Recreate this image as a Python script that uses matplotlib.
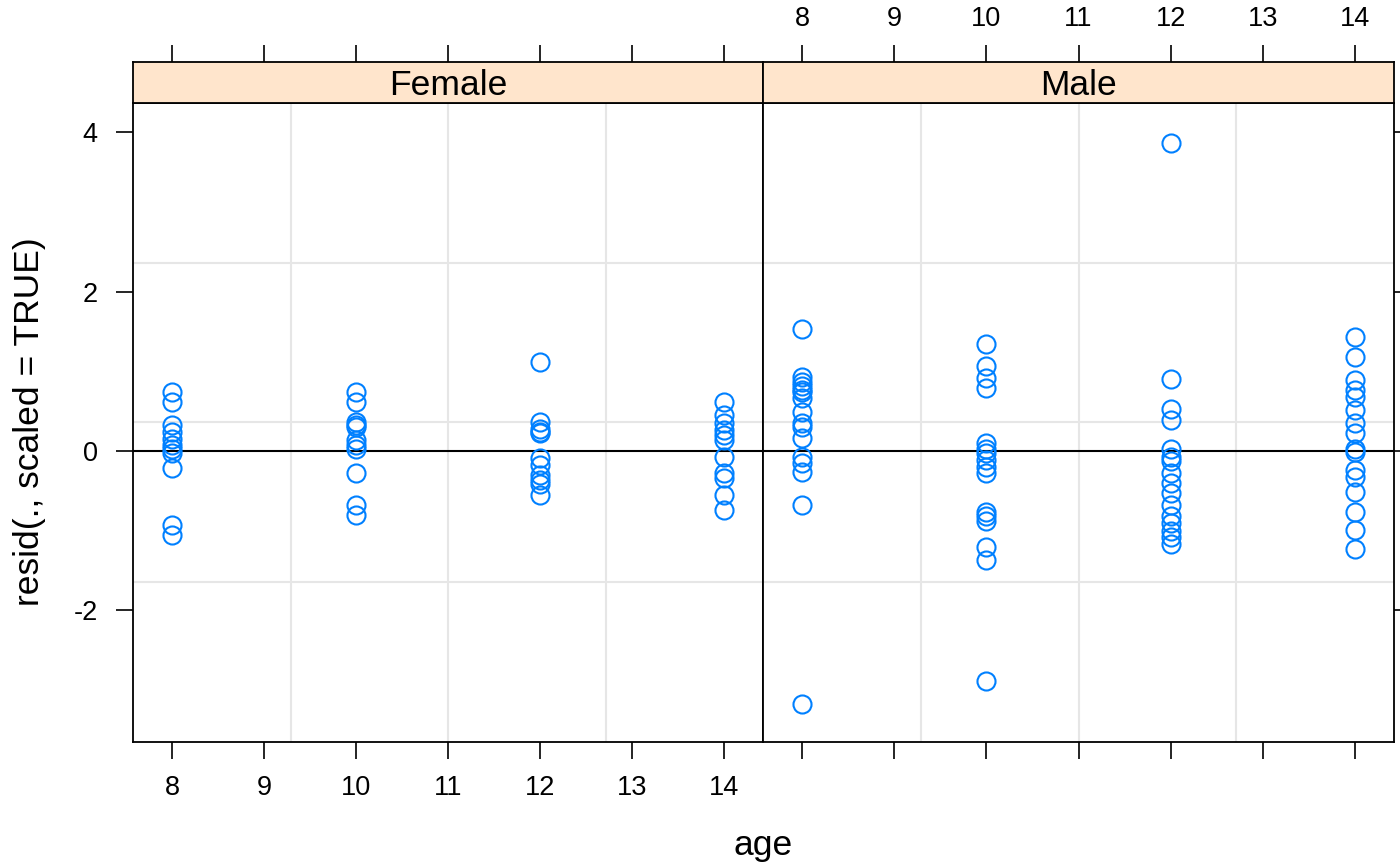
import matplotlib
matplotlib.use("Agg")
import matplotlib.pyplot as plt
import numpy as np

plt.rcParams['font.family'] = ['Liberation Sans', 'DejaVu Sans']

panels = ["Female", "Male"]
ages = [8, 10, 12, 14]
x_ticks = [8, 9, 10, 11, 12, 13, 14]
y_ticks = [-2, 0, 2, 4]
y_tick_labels = ["-2", "0", "2", "4"]

female_8 = [0.74, 0.61, 0.33, 0.24, 0.15, 0.08, 0.02, -0.03, -0.21, -0.93, -1.05]
female_10 = [0.74, 0.62, 0.37, 0.33, 0.30, 0.14, 0.08, 0.03, -0.28, -0.68, -0.80]
female_12 = [1.11, 0.37, 0.28, 0.24, 0.22, -0.09, -0.18, -0.30, -0.36, -0.41, -0.55]
female_14 = [0.62, 0.45, 0.35, 0.26, 0.20, 0.14, -0.07, -0.28, -0.34, -0.55, -0.74]

male_8 = [1.53, 0.93, 0.87, 0.81, 0.77, 0.74, 0.67, 0.49, 0.35, 0.30, 0.16,
          -0.07, -0.15, -0.26, -0.68, -3.17]
male_10 = [1.34, 1.06, 0.91, 0.79, 0.10, 0.03, -0.03, -0.11, -0.20, -0.28,
           -0.76, -0.82, -0.88, -1.20, -1.37, -2.88]
male_12 = [3.86, 0.90, 0.53, 0.39, 0.03, -0.07, -0.12, -0.28, -0.40, -0.53,
           -0.68, -0.82, -0.90, -1.00, -1.08, -1.16]
male_14 = [1.43, 1.18, 0.89, 0.77, 0.68, 0.51, 0.35, 0.22, 0.03, -0.01,
           -0.24, -0.32, -0.51, -0.76, -0.99, -1.23]

data = {
    "Female": [female_8, female_10, female_12, female_14],
    "Male": [male_8, male_10, male_12, male_14],
}

W, H = 1400, 866
fig = plt.figure(figsize=(W / 100, H / 100), dpi=100)

xlim = (7.576, 14.424)
ylim = (-3.649, 4.364)
point_color = "#0080ff"
strip_color = "#ffe5cc"

px = lambda v: v / W
py = lambda v: v / H

panel_left = [133, 763]
panel_w = [630, 631]
plot_top, plot_bot, strip_top = 103, 742, 62

TICK_FS = 19.5
BIG_FS = 25.5

for i, name in enumerate(panels):
    ax = fig.add_axes([px(panel_left[i]), 1 - py(plot_bot), px(panel_w[i]), py(plot_bot - plot_top)])
    sax = fig.add_axes([px(panel_left[i]), 1 - py(plot_top), px(panel_w[i]), py(plot_top - strip_top)])
    ax.set_xlim(*xlim)
    ax.set_ylim(*ylim)
    # quartered grid
    for f in (0.25, 0.5, 0.75):
        ax.axvline(xlim[0] + f * (xlim[1] - xlim[0]), color="#e6e6e6", lw=1.5, zorder=0)
        ax.axhline(ylim[0] + f * (ylim[1] - ylim[0]), color="#e6e6e6", lw=1.5, zorder=0)
    ax.axhline(0, color="black", lw=1.5, zorder=1)
    for a, vals in zip(ages, data[name]):
        ax.plot([a] * len(vals), vals, linestyle="none", marker="o", markersize=13,
                markerfacecolor="none", markeredgecolor=point_color, markeredgewidth=1.5, zorder=3)
    for s in ax.spines.values():
        s.set_linewidth(1.3)
    ax.set_xticks(x_ticks)
    ax.set_yticks(y_ticks)
    ax.tick_params(direction="out", length=12.5, width=1.2, labelsize=TICK_FS, pad=11)
    ax.tick_params(axis="y", pad=13)
    if i == 0:
        ax.tick_params(axis="x", labelbottom=True)
        ax.set_yticklabels(y_tick_labels)
        ax.tick_params(axis="y", left=True, right=False, labelleft=True)
    else:
        ax.tick_params(axis="x", labelbottom=False)
        ax.tick_params(axis="y", left=False, right=True, labelleft=False, labelright=False)

    # strip
    sax.set_xlim(*xlim)
    sax.set_ylim(0, 1)
    sax.set_facecolor(strip_color)
    sax.set_yticks([])
    sax.set_xticks(x_ticks)
    sax.tick_params(axis="x", direction="out", length=12.5, width=1.2, labelsize=TICK_FS, pad=9,
                    bottom=False, top=True, labelbottom=False, labeltop=(i == 1))
    for s in sax.spines.values():
        s.set_linewidth(1.3)
    sax.text(0.5, 0.42, name, transform=sax.transAxes, ha="center", va="center", fontsize=BIG_FS)

fig.text(px(763), 1 - py(845), "age", ha="center", va="center", fontsize=BIG_FS)
fig.text(px(30), 1 - py(422), "resid(., scaled = TRUE)", ha="center", va="center",
         rotation=90, fontsize=BIG_FS)

fig.savefig("out.png", dpi=100)
